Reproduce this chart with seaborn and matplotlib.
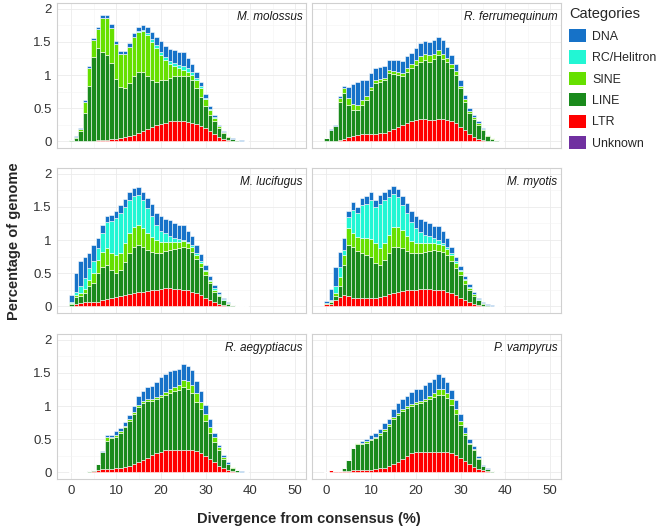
import numpy as np
import pandas as pd
import matplotlib
matplotlib.use("Agg")
import matplotlib.pyplot as plt
from matplotlib.patches import Patch
from matplotlib.ticker import MultipleLocator
import seaborn as sns

sns.set_theme(style="white")
plt.rcParams['font.family'] = ['Liberation Sans', 'DejaVu Sans']

divergence = list(range(40))
species = ["M. molossus", "R. ferrumequinum", "M. lucifugus",
           "M. myotis", "R. aegyptiacus", "P. vampyrus"]
categories = ["DNA", "RC/Helitron", "SINE", "LINE", "LTR", "Unknown"]
palette = ["#1672C8", "#22F6D4", "#66E000", "#1A8A1C", "#FF0000", "#7030A0"]
x_ticks = [0, 10, 20, 30, 40, 50]
y_ticks = [0, 0.5, 1, 1.5, 2]
y_tick_labels = ["0", "0.5", "1", "1.5", "2"]

# Stack tops, bottom to top: LTR, LINE, SINE, RC/Helitron, DNA (total)
mmol_ltr = [0, 0, 0.003, 0.005, 0.01, 0.01, 0.015, 0.02, 0.025, 0.03, 0.04, 0.05, 0.06, 0.08, 0.1, 0.12, 0.15, 0.18, 0.21, 0.24,
            0.26, 0.28, 0.3, 0.3, 0.3, 0.3, 0.29, 0.28, 0.26, 0.23, 0.2, 0.15, 0.11, 0.07, 0.04, 0.02, 0.01, 0.005, 0.002, 0]
mmol_line = [0.015, 0.05, 0.15, 0.43, 0.84, 1.27, 1.41, 1.35, 1.3, 1.18, 0.94, 0.82, 0.81, 0.88, 0.98, 1.05, 1.05, 0.98, 0.93, 0.9,
             0.92, 0.93, 0.95, 0.98, 0.99, 0.98, 0.99, 0.92, 0.81, 0.67, 0.53, 0.39, 0.31, 0.2, 0.13, 0.07, 0.035, 0.018, 0.01, 0.006]
mmol_sine = [0.02, 0.06, 0.18, 0.6, 1.1, 1.53, 1.69, 1.86, 1.86, 1.71, 1.46, 1.31, 1.31, 1.42, 1.57, 1.65, 1.66, 1.6, 1.5, 1.4,
             1.3, 1.22, 1.16, 1.13, 1.1, 1.08, 1.05, 1.0, 0.92, 0.8, 0.64, 0.48, 0.35, 0.23, 0.14, 0.075, 0.04, 0.02, 0.012, 0.008]
mmol_rc = [0.02, 0.06, 0.18, 0.6, 1.1, 1.53, 1.69, 1.86, 1.86, 1.71, 1.46, 1.31, 1.31, 1.42, 1.57, 1.66, 1.68, 1.63, 1.54, 1.45,
           1.35, 1.27, 1.21, 1.18, 1.15, 1.13, 1.1, 1.05, 0.96, 0.83, 0.66, 0.49, 0.36, 0.235, 0.14, 0.075, 0.04, 0.02, 0.012, 0.008]
mmol_total = [0.025, 0.075, 0.2, 0.63, 1.13, 1.56, 1.72, 1.91, 1.91, 1.77, 1.51, 1.36, 1.36, 1.48, 1.64, 1.72, 1.76, 1.73, 1.65, 1.57,
              1.51, 1.44, 1.39, 1.37, 1.34, 1.34, 1.26, 1.17, 1.05, 0.9, 0.72, 0.54, 0.39, 0.25, 0.15, 0.08, 0.045, 0.025, 0.015, 0.01]

rfer_ltr = [0, 0, 0.005, 0.02, 0.04, 0.06, 0.08, 0.1, 0.11, 0.11, 0.11, 0.11, 0.12, 0.13, 0.15, 0.18, 0.21, 0.24, 0.27, 0.3,
            0.32, 0.33, 0.33, 0.32, 0.32, 0.33, 0.33, 0.32, 0.3, 0.27, 0.22, 0.17, 0.11, 0.07, 0.04, 0.02, 0.01, 0.005, 0, 0]
rfer_line = [0.05, 0.17, 0.23, 0.6, 0.73, 0.55, 0.47, 0.48, 0.55, 0.62, 0.77, 0.88, 0.9, 0.92, 1.03, 1.02, 1.0, 0.99, 1.05, 1.1,
             1.15, 1.2, 1.22, 1.2, 1.24, 1.3, 1.24, 1.2, 1.1, 1.0, 0.8, 0.6, 0.43, 0.33, 0.25, 0.17, 0.08, 0.04, 0.015, 0.008]
rfer_sine = [0.05, 0.17, 0.23, 0.65, 0.8, 0.65, 0.56, 0.55, 0.62, 0.68, 0.82, 0.92, 0.94, 0.96, 1.07, 1.06, 1.04, 1.03, 1.1, 1.16,
             1.22, 1.28, 1.32, 1.3, 1.32, 1.38, 1.32, 1.26, 1.16, 1.06, 0.84, 0.64, 0.46, 0.36, 0.27, 0.18, 0.09, 0.045, 0.018, 0.009]
rfer_rc = rfer_sine
rfer_total = [0.05, 0.18, 0.25, 0.68, 0.84, 0.82, 0.87, 0.89, 0.92, 0.93, 1.03, 1.1, 1.12, 1.14, 1.23, 1.22, 1.22, 1.21, 1.28, 1.33,
              1.4, 1.48, 1.51, 1.5, 1.53, 1.58, 1.53, 1.42, 1.3, 1.16, 0.92, 0.7, 0.5, 0.4, 0.3, 0.2, 0.1, 0.05, 0.02, 0.01]

mluc_ltr = [0.01, 0.03, 0.05, 0.06, 0.07, 0.06, 0.07, 0.1, 0.11, 0.12, 0.14, 0.15, 0.17, 0.19, 0.2, 0.21, 0.22, 0.23, 0.24, 0.25,
            0.26, 0.27, 0.27, 0.26, 0.26, 0.25, 0.24, 0.22, 0.2, 0.17, 0.13, 0.09, 0.06, 0.04, 0.02, 0.01, 0.005, 0, 0, 0]
mluc_line = [0.04, 0.14, 0.16, 0.2, 0.3, 0.35, 0.5, 0.6, 0.62, 0.55, 0.5, 0.55, 0.67, 0.8, 0.9, 0.92, 0.9, 0.85, 0.82, 0.8,
             0.81, 0.83, 0.85, 0.87, 0.88, 0.9, 0.88, 0.82, 0.72, 0.6, 0.48, 0.35, 0.22, 0.15, 0.09, 0.04, 0.015, 0.006, 0.002, 0]
mluc_sine = [0.05, 0.17, 0.2, 0.26, 0.4, 0.5, 0.7, 0.82, 0.88, 0.8, 0.77, 0.8, 0.95, 1.1, 1.2, 1.22, 1.18, 1.1, 1.05, 1.0,
             0.97, 0.97, 0.97, 0.97, 0.97, 0.98, 0.95, 0.9, 0.78, 0.66, 0.53, 0.38, 0.25, 0.17, 0.1, 0.045, 0.02, 0.008, 0.003, 0]
mluc_rc = [0.07, 0.22, 0.3, 0.42, 0.58, 0.68, 0.88, 1.1, 1.27, 1.28, 1.33, 1.4, 1.5, 1.6, 1.67, 1.68, 1.6, 1.48, 1.36, 1.22,
           1.14, 1.1, 1.06, 1.03, 1.01, 1.0, 0.97, 0.92, 0.8, 0.68, 0.55, 0.4, 0.27, 0.18, 0.11, 0.05, 0.022, 0.009, 0.004, 0]
mluc_total = [0.17, 0.5, 0.69, 0.75, 0.81, 0.93, 1.03, 1.22, 1.36, 1.37, 1.44, 1.52, 1.62, 1.73, 1.78, 1.8, 1.73, 1.63, 1.54, 1.41,
              1.36, 1.32, 1.3, 1.26, 1.23, 1.23, 1.14, 1.06, 0.92, 0.79, 0.62, 0.46, 0.32, 0.21, 0.13, 0.06, 0.025, 0.01, 0.005, 0]

mmyo_ltr = [0.03, 0.04, 0.1, 0.14, 0.17, 0.16, 0.13, 0.12, 0.12, 0.12, 0.12, 0.13, 0.14, 0.16, 0.18, 0.2, 0.22, 0.23, 0.24, 0.25,
            0.25, 0.26, 0.26, 0.26, 0.25, 0.25, 0.24, 0.22, 0.2, 0.17, 0.13, 0.09, 0.06, 0.04, 0.02, 0.01, 0.005, 0, 0, 0]
mmyo_line = [0.04, 0.07, 0.15, 0.3, 0.62, 0.92, 0.9, 0.83, 0.8, 0.78, 0.75, 0.66, 0.62, 0.7, 0.8, 0.9, 0.9, 0.88, 0.83, 0.8,
             0.8, 0.8, 0.82, 0.84, 0.85, 0.84, 0.82, 0.78, 0.69, 0.58, 0.47, 0.34, 0.24, 0.15, 0.09, 0.04, 0.02, 0.01, 0.003, 0]
mmyo_sine = [0.045, 0.08, 0.2, 0.45, 0.78, 1.18, 1.1, 1.04, 1.03, 1.03, 1.02, 0.95, 0.88, 0.95, 1.08, 1.2, 1.2, 1.15, 1.06, 0.98,
             0.96, 0.95, 0.95, 0.96, 0.96, 0.94, 0.92, 0.87, 0.77, 0.65, 0.53, 0.39, 0.27, 0.18, 0.1, 0.045, 0.022, 0.011, 0.003, 0]
mmyo_rc = [0.05, 0.1, 0.3, 0.6, 0.85, 1.35, 1.45, 1.4, 1.52, 1.55, 1.6, 1.5, 1.55, 1.6, 1.65, 1.7, 1.65, 1.52, 1.4, 1.27,
           1.18, 1.12, 1.08, 1.06, 1.03, 1.0, 0.96, 0.9, 0.8, 0.68, 0.55, 0.41, 0.29, 0.19, 0.11, 0.05, 0.025, 0.012, 0.004, 0]
mmyo_total = [0.08, 0.26, 0.6, 0.82, 1.03, 1.43, 1.57, 1.5, 1.64, 1.67, 1.72, 1.61, 1.68, 1.72, 1.77, 1.82, 1.77, 1.66, 1.56, 1.43,
              1.36, 1.31, 1.28, 1.26, 1.21, 1.21, 1.13, 1.03, 0.9, 0.75, 0.61, 0.46, 0.33, 0.21, 0.13, 0.06, 0.03, 0.015, 0.005, 0]

raeg_ltr = [0, 0, 0.003, 0.005, 0.01, 0.02, 0.04, 0.05, 0.05, 0.05, 0.06, 0.07, 0.08, 0.1, 0.12, 0.15, 0.18, 0.22, 0.26, 0.29,
            0.31, 0.33, 0.33, 0.33, 0.33, 0.33, 0.33, 0.33, 0.32, 0.29, 0.25, 0.2, 0.15, 0.1, 0.06, 0.04, 0.02, 0.01, 0.005, 0]
raeg_line = [0, 0, 0.004, 0.008, 0.015, 0.03, 0.12, 0.3, 0.48, 0.52, 0.54, 0.6, 0.68, 0.78, 0.88, 0.99, 1.04, 1.07, 1.07, 1.1,
             1.14, 1.17, 1.2, 1.22, 1.24, 1.28, 1.26, 1.2, 1.06, 0.95, 0.78, 0.6, 0.46, 0.33, 0.2, 0.12, 0.07, 0.03, 0.012, 0.006]
raeg_sine = [0, 0, 0.005, 0.01, 0.02, 0.03, 0.125, 0.31, 0.53, 0.54, 0.56, 0.62, 0.7, 0.81, 0.91, 1.02, 1.07, 1.1, 1.1, 1.13,
             1.17, 1.21, 1.25, 1.28, 1.31, 1.39, 1.38, 1.32, 1.19, 1.06, 0.88, 0.69, 0.53, 0.38, 0.23, 0.13, 0.075, 0.032, 0.013, 0.007]
raeg_rc = raeg_sine
raeg_total = [0, 0, 0.005, 0.01, 0.02, 0.03, 0.13, 0.32, 0.57, 0.56, 0.62, 0.67, 0.76, 0.87, 1.0, 1.15, 1.22, 1.29, 1.3, 1.36,
              1.43, 1.48, 1.52, 1.54, 1.56, 1.63, 1.61, 1.54, 1.37, 1.23, 1.01, 0.8, 0.59, 0.41, 0.26, 0.15, 0.085, 0.035, 0.015, 0.008]

pvam_ltr = [0.005, 0.035, 0.015, 0.015, 0.02, 0.025, 0.03, 0.03, 0.03, 0.035, 0.04, 0.05, 0.06, 0.07, 0.09, 0.12, 0.16, 0.2, 0.25, 0.29,
            0.3, 0.3, 0.3, 0.3, 0.3, 0.31, 0.31, 0.31, 0.29, 0.26, 0.22, 0.17, 0.12, 0.08, 0.05, 0.03, 0.015, 0.008, 0.003, 0]
pvam_line = [0.01, 0.035, 0.015, 0.02, 0.06, 0.18, 0.36, 0.42, 0.43, 0.45, 0.49, 0.52, 0.57, 0.63, 0.7, 0.8, 0.86, 0.92, 0.97, 1.0,
             1.03, 1.04, 1.07, 1.1, 1.13, 1.17, 1.17, 1.12, 1.02, 0.88, 0.72, 0.57, 0.42, 0.33, 0.2, 0.09, 0.05, 0.02, 0.008, 0]
pvam_sine = [0.01, 0.035, 0.015, 0.02, 0.06, 0.185, 0.365, 0.44, 0.45, 0.47, 0.51, 0.54, 0.59, 0.66, 0.73, 0.83, 0.89, 0.95, 1.0, 1.03,
             1.06, 1.08, 1.11, 1.15, 1.19, 1.25, 1.25, 1.2, 1.1, 0.95, 0.77, 0.6, 0.44, 0.35, 0.21, 0.095, 0.052, 0.021, 0.009, 0]
pvam_rc = pvam_sine
pvam_total = [0.01, 0.035, 0.015, 0.02, 0.06, 0.19, 0.37, 0.45, 0.47, 0.5, 0.56, 0.6, 0.66, 0.74, 0.81, 0.96, 1.04, 1.1, 1.15, 1.21,
              1.25, 1.26, 1.31, 1.36, 1.4, 1.48, 1.44, 1.36, 1.24, 1.09, 0.88, 0.69, 0.5, 0.39, 0.24, 0.11, 0.06, 0.025, 0.01, 0]

stack_tops = {
    "M. molossus": (mmol_ltr, mmol_line, mmol_sine, mmol_rc, mmol_total),
    "R. ferrumequinum": (rfer_ltr, rfer_line, rfer_sine, rfer_rc, rfer_total),
    "M. lucifugus": (mluc_ltr, mluc_line, mluc_sine, mluc_rc, mluc_total),
    "M. myotis": (mmyo_ltr, mmyo_line, mmyo_sine, mmyo_rc, mmyo_total),
    "R. aegyptiacus": (raeg_ltr, raeg_line, raeg_sine, raeg_rc, raeg_total),
    "P. vampyrus": (pvam_ltr, pvam_line, pvam_sine, pvam_rc, pvam_total),
}


def build_table():
    """Turn the stack tops into one long table of layer heights."""
    rows = []
    for sp in species:
        tops = np.vstack([np.zeros(len(divergence))] + [np.array(t) for t in stack_tops[sp]])
        heights = np.clip(np.diff(tops, axis=0), 0, None)
        layers = dict(zip(["LTR", "LINE", "SINE", "RC/Helitron", "DNA"], heights))
        layers["Unknown"] = np.zeros(len(divergence))
        for cat in categories:
            for d, v in zip(divergence, layers[cat]):
                rows.append({"species": sp, "divergence": d, "category": cat, "percent": v})
    return pd.DataFrame(rows)


df = build_table()

fig = plt.figure(figsize=(6.6, 5.3), dpi=100)
W, H = 660, 530
col_x = [57, 312]
row_top = [3, 168, 334]
pw, ph = 249, 145

for i, sp in enumerate(species):
    r, c = divmod(i, 2)
    ax = fig.add_axes([col_x[c] / W, 1 - (row_top[r] + ph) / H, pw / W, ph / H])
    sub = df[df["species"] == sp]
    sns.histplot(data=sub, x="divergence", weights="percent", hue="category",
                 hue_order=categories, palette=palette, multiple="stack",
                 discrete=True, shrink=1, alpha=1, edgecolor="white",
                 linewidth=0.4, legend=False, ax=ax)
    ax.set_xlim(-3.2, 52.4)
    ax.set_ylim(-0.1, 2.085)
    ax.set_xticks(x_ticks)
    ax.xaxis.set_minor_locator(MultipleLocator(5))
    ax.set_yticks(y_ticks)
    ax.yaxis.set_minor_locator(MultipleLocator(0.25))
    ax.grid(which="major", color="#EBEBEB", linewidth=0.6)
    ax.grid(which="minor", color="#F3F3F3", linewidth=0.4)
    ax.set_axisbelow(True)
    for s in ax.spines.values():
        s.set_color("#D0D0D0")
        s.set_linewidth(0.8)
    ax.set_xlabel("")
    ax.set_ylabel("")
    ax.tick_params(axis="both", which="major", length=2, color="#BBBBBB",
                   labelsize=9.5, labelcolor="#333333", pad=2)
    ax.tick_params(which="minor", length=0)
    if c == 0:
        ax.set_yticklabels(y_tick_labels)
    else:
        ax.set_yticklabels([])
        ax.tick_params(axis="y", length=0)
    if r == 2:
        ax.set_xticklabels([str(t) for t in x_ticks])
    else:
        ax.set_xticklabels([])
        ax.tick_params(axis="x", length=0)
    ax.text(0.985, 0.945, sp, transform=ax.transAxes, ha="right", va="top",
            style="italic", fontsize=8.5, color="#1A1A1A")

fig.text(14 / W, 1 - 241 / H, "Percentage of genome", rotation=90, ha="center",
         va="center", fontsize=10.5, fontweight="bold")
fig.text(309 / W, 1 - 519 / H, "Divergence from consensus (%)", ha="center",
         va="center", fontsize=10.5, fontweight="bold")

handles = [Patch(facecolor=col, edgecolor="none") for col in palette]
leg = fig.legend(handles, categories, title="Categories", loc="upper left",
                 bbox_to_anchor=(567 / W, 1 - 5 / H), frameon=False,
                 fontsize=8.9, title_fontsize=10.5, handlelength=1.35,
                 handleheight=1.25, handletextpad=0.5, labelspacing=0.62,
                 borderaxespad=0, borderpad=0.2)
leg._legend_box.align = "left"

fig.savefig("out.png", dpi=100)
